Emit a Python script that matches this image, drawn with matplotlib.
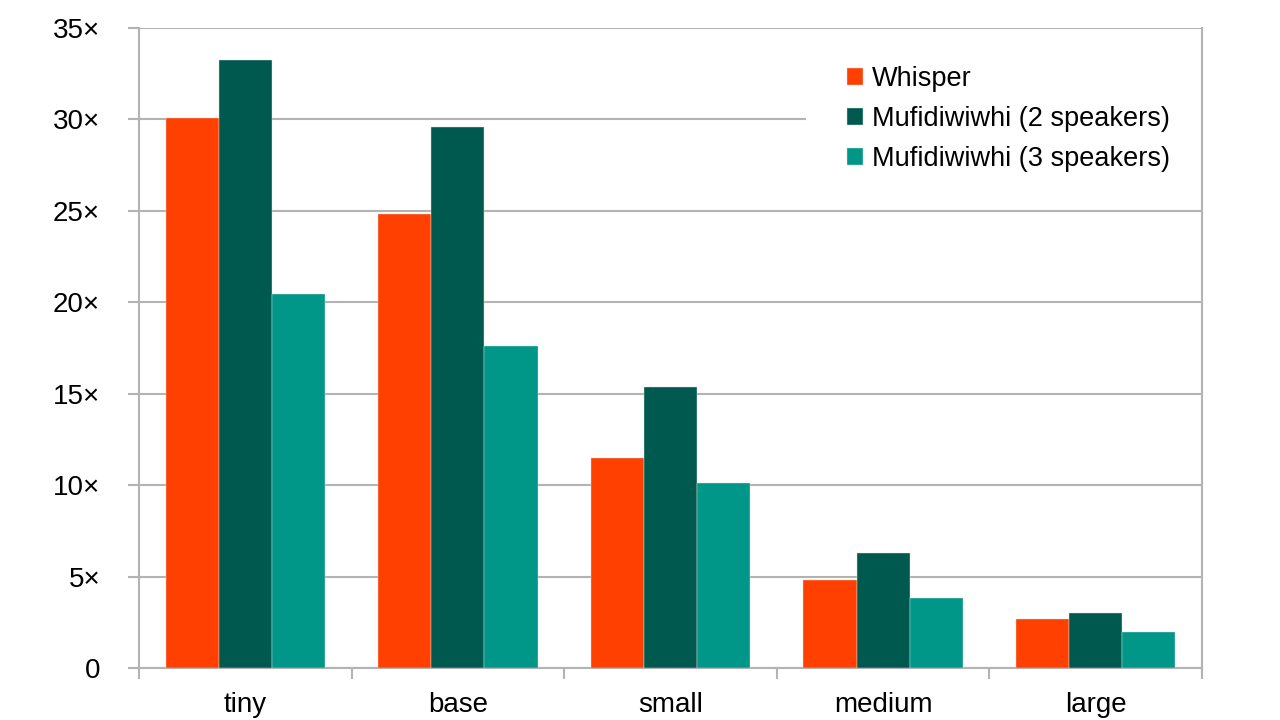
import matplotlib.pyplot as plt
from matplotlib import patches
import numpy as np

plt.rcParams['font.family'] = ['Liberation Sans', 'DejaVu Sans']

models = ["tiny", "base", "small", "medium", "large"]
whisper = [30.1, 24.85, 11.5, 4.8, 2.7]
mufi_2 = [33.25, 29.6, 15.35, 6.3, 3.0]
mufi_3 = [20.45, 17.6, 10.1, 3.85, 1.95]

series = [("Whisper", whisper, "#ff4000"),
          ("Mufidiwiwhi (2 speakers)", mufi_2, "#00594e"),
          ("Mufidiwiwhi (3 speakers)", mufi_3, "#009688")]

grey = "#b3b3b3"

fig = plt.figure(figsize=(12.8, 7.2), dpi=100)
ax = fig.add_axes([0.1086, 0.0722, 0.8305, 0.8889])

x = np.arange(len(models))
w = 0.25
for i, (name, vals, col) in enumerate(series):
    ax.bar(x + (i - 1) * w, vals, width=w, color=col, label=name,
           edgecolor="#e0e0e0", linewidth=0.3, zorder=3)

ax.set_xlim(-0.5, len(models) - 0.5)
ax.set_ylim(0, 35)

yt = np.arange(0, 36, 5)
ax.set_yticks(yt)
ax.set_yticklabels(["0"] + [f"{v}×" for v in yt[1:]])
ax.yaxis.grid(True, color=grey, linewidth=1.5, zorder=0)
ax.set_axisbelow(True)

ax.set_xticks(x)
ax.set_xticklabels(models)
ax.set_xticks(np.arange(-0.5, len(models), 1), minor=True)

ax.tick_params(axis="x", which="major", length=0, pad=17, labelsize=20)
ax.tick_params(axis="x", which="minor", length=8, width=1.5, color=grey)
ax.tick_params(axis="y", length=8, width=1.5, color=grey, pad=20, labelsize=20)

for side in ["left", "right", "bottom"]:
    ax.spines[side].set_color(grey)
    ax.spines[side].set_linewidth(1.5)
ax.spines["top"].set_visible(False)

# white box behind the legend (hides the gridline there)
bg = patches.Rectangle((0.6275, 0.74), 0.3725, 0.24, transform=ax.transAxes,
                       facecolor="white", edgecolor="none", zorder=1)
ax.add_patch(bg)

leg = ax.legend(loc="upper right", bbox_to_anchor=(0.97, 0.941), fontsize=19.5,
                frameon=False, borderpad=0, borderaxespad=0,
                handlelength=0.6, handleheight=0.6,
                handletextpad=0.33, labelspacing=0.52)
leg.set_zorder(5)

plt.savefig("out.png", dpi=100)
